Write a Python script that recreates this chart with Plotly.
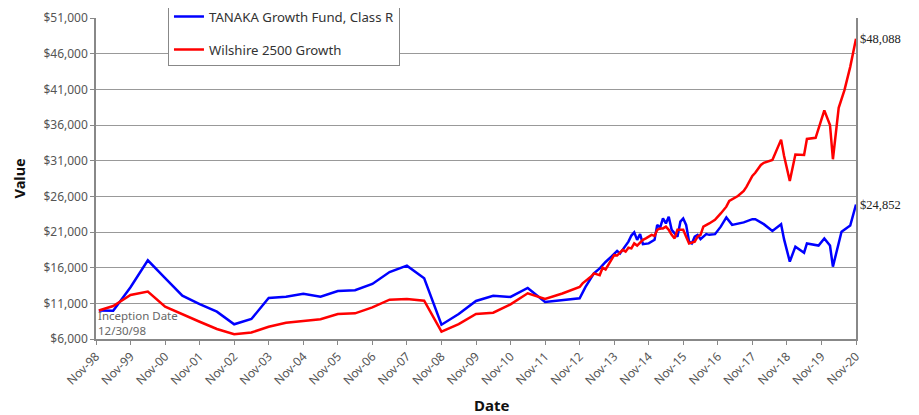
import pandas as pd
import plotly.graph_objects as go

# ---------------- data ----------------
early_dates = ['1998-12', '1999-05', '1999-11', '2000-05', '2000-11', '2001-05', '2001-11',
               '2002-05', '2002-11', '2003-05', '2003-11', '2004-05', '2004-11', '2005-05',
               '2005-11', '2006-05', '2006-11', '2007-05', '2007-11', '2008-05', '2008-11',
               '2009-05', '2009-11', '2010-05', '2010-11', '2011-05', '2011-11', '2012-05']
fund_early = [10000, 9950, 13250, 17030, 14550, 12070, 10900, 9830, 8060, 8800, 11750, 11930,
              12350, 11930, 12730, 12830, 13710, 15390, 16280, 14510, 8000, 9500, 11330, 12070,
              11890, 13150, 11190, 11470]
index_early = [10000, 10620, 12170, 12660, 10530, 9430, 8420, 7400, 6660, 6910, 7720, 8280,
               8520, 8760, 9500, 9600, 10440, 11510, 11600, 11370, 7020, 8100, 9500, 9690,
               10860, 12410, 11610, 12380]

fund_late_dates = ['2012-11', '2013-01', '2013-03', '2013-04', '2013-06', '2013-07', '2013-08',
                   '2013-10', '2013-11', '2013-12', '2014-01', '2014-02', '2014-04', '2014-05',
                   '2014-06', '2014-07', '2014-08', '2014-09', '2014-11', '2015-01', '2015-02',
                   '2015-03', '2015-04', '2015-05', '2015-06', '2015-07', '2015-09', '2015-10',
                   '2015-11', '2015-12', '2016-01', '2016-02', '2016-03', '2016-04', '2016-05',
                   '2016-07', '2016-08', '2016-10', '2016-12', '2017-02', '2017-04', '2017-08',
                   '2017-11', '2017-12', '2018-03', '2018-06', '2018-09', '2018-10', '2018-12',
                   '2019-02', '2019-05', '2019-06', '2019-10', '2019-12', '2020-02', '2020-03',
                   '2020-06', '2020-09', '2020-11']
fund_late = [11700, 13300, 14500, 15200, 15900, 16400, 16800, 17550, 17900, 18350, 18000, 18500,
             19650, 20500, 20950, 19900, 20700, 19300, 19400, 19900, 22000, 21600, 22900, 22200,
             23150, 21300, 20350, 22450, 22900, 22000, 19650, 19400, 20350, 20600, 20000, 20700,
             20600, 20700, 21750, 23050, 22000, 22350, 22800, 22800, 22100, 21150, 22100, 20000,
             16850, 18950, 18100, 19400, 19100, 20100, 19100, 16150, 21050, 21900, 24852]

index_late_dates = ['2012-11', '2012-12', '2013-03', '2013-04', '2013-06', '2013-07', '2013-08',
                    '2013-10', '2013-11', '2013-12', '2014-02', '2014-03', '2014-04', '2014-05',
                    '2014-06', '2014-07', '2014-09', '2014-10', '2014-12', '2015-01', '2015-02',
                    '2015-03', '2015-04', '2015-05', '2015-06', '2015-07', '2015-08', '2015-09',
                    '2015-11', '2015-12', '2016-01', '2016-03', '2016-04', '2016-05', '2016-06',
                    '2016-08', '2016-10', '2016-12', '2017-02', '2017-03', '2017-05', '2017-06',
                    '2017-08', '2017-09', '2017-11', '2017-12', '2018-02', '2018-03', '2018-06',
                    '2018-09', '2018-10', '2018-12', '2019-02', '2019-05', '2019-06', '2019-09',
                    '2019-12', '2020-02', '2020-03', '2020-05', '2020-07', '2020-09', '2020-11']
index_late = [13300, 13800, 14750, 15200, 14950, 16000, 15750, 17100, 17750, 17700, 18500, 18250,
              18800, 18700, 19400, 19100, 19900, 20100, 20600, 20450, 21300, 21500, 21500, 21750,
              21300, 20600, 20100, 21300, 21300, 20350, 19400, 19650, 20350, 20600, 21750, 22200,
              22700, 23600, 24550, 25350, 25800, 26050, 26750, 27350, 28850, 29300, 30400, 30700,
              31100, 33950, 31700, 28150, 31850, 31800, 34050, 34200, 38050, 36000, 31200, 38400,
              40900, 44150, 48088]

tick_years = list(range(1998, 2021))
tick_labels = [f"Nov-{y % 100:02d}" for y in tick_years]

fund_name = "TANAKA Growth Fund, Class R"
index_name = "Wilshire 2500 Growth"

# ---------------- build ----------------
def month_end(lst):
    d = pd.to_datetime(lst, format="%Y-%m") + pd.offsets.MonthEnd(0)
    return list(d)

inception = pd.Timestamp("1998-12-30")
fund_x = month_end(early_dates + fund_late_dates)
index_x = month_end(early_dates + index_late_dates)
fund_x[0] = inception
index_x[0] = inception
fund_y = fund_early + fund_late
index_y = index_early + index_late

tick_vals = [pd.Timestamp(f"{y}-11-30") for y in tick_years]

FONT = "Noto Sans, DejaVu Sans, sans-serif"

fig = go.Figure()
fig.add_trace(go.Scatter(x=fund_x, y=fund_y, mode="lines", name=fund_name,
                         line=dict(color="#0000FF", width=2.5), legendgroup="a"))
fig.add_trace(go.Scatter(x=index_x, y=index_y, mode="lines", name=index_name,
                         line=dict(color="#FF0000", width=2.5), legendgroup="b"))

tick_font = dict(family=FONT, size=12, color="#555555")

fig.update_layout(
    width=919, height=415,
    margin=dict(l=88, r=71, t=10, b=84, autoexpand=False),
    paper_bgcolor="white", plot_bgcolor="white",
    showlegend=True,
    legend=dict(x=0.0947, y=1.055, xanchor="left", yanchor="top",
                bgcolor="white", bordercolor="#888888", borderwidth=1,
                font=dict(family=FONT, size=13.2, color="#333333"),
                tracegroupgap=13, itemwidth=30),
    xaxis=dict(type="date", range=[tick_vals[0], tick_vals[-1]], automargin=False,
               tickmode="array", tickvals=tick_vals, ticktext=tick_labels,
               tickangle=-45, tickfont=tick_font,
               ticks="outside", ticklen=4, tickcolor="#888888",
               showgrid=False, showline=True, linecolor="#888888", linewidth=1.5,
               mirror=False, zeroline=False),
    yaxis=dict(range=[6000, 51000], dtick=5000, tick0=6000, tickformat="$,.0f", automargin=False,
               tickfont=tick_font, ticks="outside", ticklen=4, tickcolor="#888888",
               showgrid=True, gridcolor="#999999", gridwidth=1.2,
               showline=True, linecolor="#888888", linewidth=1.5, mirror=True,
               zeroline=False),
)

title_font = dict(family=FONT, size=15, color="#111111")
fig.add_annotation(x=(491 - 96) / 760, xref="paper", y=-(405 - 339) / 321, yref="paper",
                   xanchor="center", yanchor="middle",
                   text="<b>Date</b>", showarrow=False, font=title_font)
fig.add_annotation(x=-(96 - 18) / 760, xref="paper", y=0.5, yref="paper",
                   xanchor="center", yanchor="middle",
                   text="<b>Value</b>", textangle=-90, showarrow=False,
                   font=dict(family=FONT, size=14.5, color="#111111"))

ann_font = dict(family="Liberation Serif, serif", size=12.5, color="#222222")
fig.add_annotation(x=index_x[-1], y=index_y[-1], text=f"${index_y[-1]:,.0f}",
                   showarrow=False, xanchor="left", yanchor="middle", xshift=2, font=ann_font)
fig.add_annotation(x=fund_x[-1], y=fund_y[-1], text=f"${fund_y[-1]:,.0f}",
                   showarrow=False, xanchor="left", yanchor="middle", xshift=2, font=ann_font)
fig.add_annotation(x=0, xref="paper", y=8300, yref="y", xanchor="left", yanchor="middle",
                   text="Inception Date<br>12/30/98", align="left", showarrow=False,
                   font=dict(family=FONT, size=11.5, color="#666666"))

fig.write_html("out.html")
